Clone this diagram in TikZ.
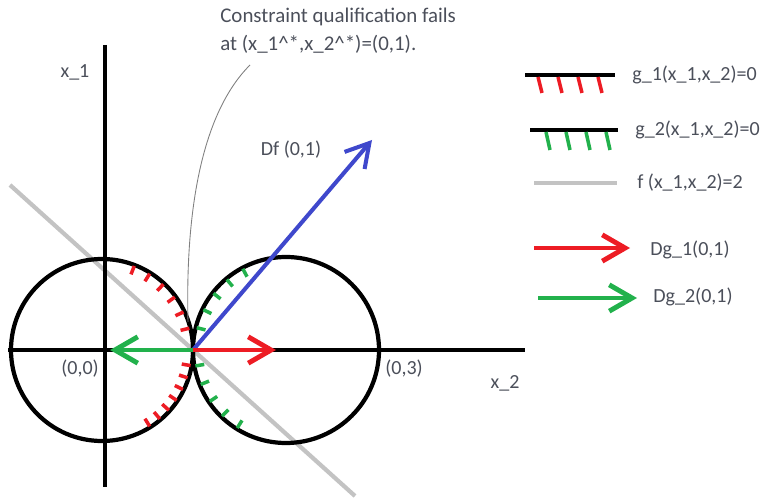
\documentclass[tikz,border=0pt]{standalone}
\usepackage{fontspec}
\setmainfont{Carlito}
\usetikzlibrary{arrows.meta}
\definecolor{paintred}{HTML}{ED1C24}
\definecolor{paintgreen}{HTML}{22B14C}
\definecolor{paintblue}{HTML}{3F48CC}
\definecolor{paintgrey}{HTML}{C3C3C3}
\definecolor{labelgrey}{HTML}{4B4F5A}

\tikzset{
  bound/.style={line width=2.4pt, black},
  axisline/.style={line width=2.2pt, black},
  levelset/.style={line width=2.4pt, paintgrey},
  hatchred/.style={line width=2pt, paintred},
  hatchgreen/.style={line width=2pt, paintgreen},
  grad/.style={line width=2.8pt, -{Straight Barb[length=13pt,width=15pt]}},
  lbl/.style={font=\fontsize{11.4}{16}\selectfont, text=labelgrey, inner sep=0pt},
}

\begin{document}
\begin{tikzpicture}[x=0.02cm, y=-0.02cm]
  \useasboundingbox (0,0) rectangle (763,499);

  % ── POINTS ─────────────────────────────────
  \coordinate (O1) at (102,350);
  \coordinate (O2) at (286,350);
  \coordinate (T) at (193,350);

  % ── LEVEL SET OF f ─────────────────────────
  \draw[levelset] (10,185) -- (355,496);

  % ── CONSTRAINT CIRCLES ─────────────────────
  \draw[bound] (O1) circle[radius=91];
  \draw[bound] (O2) circle[radius=93];

  % ── AXES ───────────────────────────────────
  \draw[axisline] (105,45) -- (105,487);
  \draw[axisline] (8,350) -- (525,350);
  \node[lbl] (xone) at (75,72) {x\_1};
  \node[lbl] (xtwo) at (505,383) {x\_2};
  \node[lbl] (origin) at (80,369) {(0,0)};
  \node[lbl] (pthree) at (404,369) {(0,3)};

  % Feasible side hatching
  \foreach \a in {-14,-25,...,-70,10,18,...,58}
    \draw[hatchred, shift={(O1)}] (\a:90) -- (\a:81);
  \foreach \a in {-118,-130,...,-166,122,134,...,170}
    \draw[hatchgreen, shift={(O2)}] (\a:92) -- (\a:83);

  % ── GRADIENTS ──────────────────────────────
  \coordinate (dftip) at (372,140);
  \coordinate (dgonetip) at (276,350);
  \coordinate (dgtwotip) at (110,350);
  \draw[grad, paintblue, line width=2.3pt] (T) -- (dftip);
  \draw[grad, paintred] (T) -- (dgonetip);
  \draw[grad, paintgreen] (T) -- (dgtwotip);
  \node[lbl] (df) at (291,150) {Df (0,1)};

  % ── NOTE ───────────────────────────────────
  \node[lbl, font=\fontsize{11.9}{16}\selectfont, anchor=west, align=left] (note) at (220,31)
    {Constraint qualification fails\\
     at (x\_1\textasciicircum*,x\_2\textasciicircum*)=(0,1).};
  \coordinate (notefoot) at (250,65);
  \draw[gray, line width=0.5pt] (188,322) .. controls (185,200) and (205,110) .. (notefoot);

  % ── LEGEND ─────────────────────────────────
  \draw[bound] (525,75) -- (615,75);
  \foreach \x in {540,560,580,600}
    \draw[hatchred] (\x-2,77) -- (\x+2,93);
  \node[lbl, anchor=west] (gone) at (632,75) {g\_1(x\_1,x\_2)=0};

  \draw[bound] (530,130) -- (618,130);
  \foreach \x in {548,568,588,608}
    \draw[hatchgreen] (\x-2,132) -- (\x+2,150);
  \node[lbl, anchor=west] (gtwo) at (635,130) {g\_2(x\_1,x\_2)=0};

  \draw[levelset] (534,183) -- (617,183);
  \node[lbl, anchor=west] (fval) at (637,183) {f (x\_1,x\_2)=2};

  \draw[grad, paintred] (534,248) -- (630,248);
  \node[lbl, anchor=west] (dgone) at (650,250) {Dg\_1(0,1)};

  \draw[grad, paintgreen] (538,298) -- (637,298);
  \node[lbl, anchor=west] (dgtwo) at (653,297) {Dg\_2(0,1)};
\end{tikzpicture}
\end{document}
